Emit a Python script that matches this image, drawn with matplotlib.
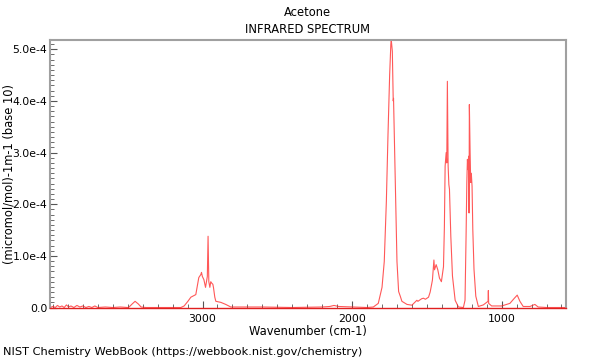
import matplotlib
matplotlib.use('Agg')
import matplotlib.pyplot as plt
from matplotlib.ticker import MultipleLocator, FixedLocator, FuncFormatter

# spectrum points (wavenumber cm-1, absorbance in 1e-4)
wavenumber = [4020, 4000, 3985, 3970, 3955, 3940, 3925, 3910, 3895, 3880, 3860, 3840,
              3820, 3800, 3780, 3760, 3740, 3720, 3700, 3650, 3600, 3550, 3500,
              3491, 3470, 3451, 3430, 3411, 3380, 3300, 3200, 3145, 3123, 3098, 3078,
              3045, 3025, 3011, 3007, 3001, 2991, 2980, 2968, 2963, 2958, 2951, 2945,
              2938, 2931, 2927, 2918, 2911, 2878, 2845, 2811, 2750, 2600, 2400, 2200,
              2150, 2121, 2090, 2000, 1900, 1858, 1825, 1800, 1785, 1771, 1760, 1749,
              1741, 1738, 1731, 1727, 1725, 1723, 1718, 1709, 1700, 1689, 1678, 1667,
              1633, 1600, 1567, 1560, 1545, 1535, 1523, 1510, 1489, 1478, 1463, 1453,
              1449, 1438, 1427, 1416, 1403, 1389, 1383, 1378, 1371, 1367, 1363, 1358,
              1353, 1349, 1340, 1329, 1311, 1289, 1256, 1245, 1238, 1233, 1229, 1225,
              1220, 1218, 1216, 1211, 1207, 1203, 1198, 1193, 1185, 1173, 1156, 1123,
              1100, 1091, 1089, 1087, 1067, 1000, 945, 918, 896, 878, 856, 811, 778,
              756, 700, 600, 570]
absorbance = [0.0, 0.02, 0.0, 0.04, 0.01, 0.03, 0.0, 0.05, 0.01, 0.03, 0.0, 0.04,
              0.01, 0.03, 0.0, 0.02, 0.0, 0.03, 0.0, 0.01, 0.0, 0.01, 0.0,
              0.01, 0.07, 0.12, 0.07, 0.01, 0.0, 0.0, 0.0, 0.0, 0.03, 0.12, 0.2,
              0.25, 0.58, 0.64, 0.68, 0.6, 0.54, 0.39, 0.6, 1.38, 0.5, 0.39, 0.5,
              0.47, 0.45, 0.39, 0.2, 0.12, 0.1, 0.06, 0.01, 0.01, 0.01, 0.0, 0.01,
              0.02, 0.04, 0.02, 0.01, 0.0, 0.01, 0.08, 0.39, 0.89, 2.05, 3.35, 4.5,
              5.1, 5.18, 4.96, 4.3, 4.0, 4.05, 3.35, 2.05, 0.89, 0.31, 0.22, 0.12,
              0.06, 0.045, 0.14, 0.12, 0.15, 0.17, 0.18, 0.16, 0.2, 0.3, 0.53, 0.92,
              0.73, 0.83, 0.73, 0.57, 0.5, 0.79, 1.56, 2.74, 3.0, 2.8, 4.38, 2.74,
              2.38, 2.29, 1.38, 0.61, 0.14, 0.01, 0.0, 0.14, 1.38, 2.42, 2.87, 2.67,
              2.93, 1.83, 3.93, 3.0, 2.42, 2.6, 2.35, 1.51, 0.74, 0.22, 0.02, 0.05,
              0.1, 0.12, 0.33, 0.08, 0.03, 0.03, 0.08, 0.17, 0.24, 0.12, 0.02, 0.02, 0.06,
              0.01, 0.0, 0.0, 0.0]

xticks = [3000, 2000, 1000]
title = 'Acetone'
subtitle = 'INFRARED SPECTRUM'
xlabel = 'Wavenumber (cm-1)'
ylabel = '(micromol/mol)-1m-1 (base 10)'
footer = 'NIST Chemistry WebBook (https://webbook.nist.gov/chemistry)'

fig = plt.figure(figsize=(6, 3.6), dpi=100)
ax = fig.add_axes([0.0833, 0.1458, 0.8600, 0.7431])

y = [v * 1e-4 for v in absorbance]
ax.plot(wavenumber, y, color='#ff2020', lw=0.8, alpha=0.75)

ax.set_xlim(4020, 570)
ax.set_ylim(0, 5.18e-4)

ax.xaxis.set_major_locator(FixedLocator(xticks))
ax.xaxis.set_minor_locator(MultipleLocator(100))
ax.yaxis.set_major_locator(MultipleLocator(1e-4))
ax.yaxis.set_minor_locator(MultipleLocator(0.1e-4))


def yfmt(v, pos):
    if abs(v) < 1e-12:
        return '0.0'
    return '%.1fe-4' % (v * 1e4)


ax.yaxis.set_major_formatter(FuncFormatter(yfmt))
ax.tick_params(which='both', direction='in', color='#555555', labelsize=7.8)
ax.tick_params(which='major', length=5)
ax.tick_params(which='minor', length=3)
ax.tick_params(axis='x', pad=5)
ax.tick_params(axis='y', pad=2)

for s in ax.spines.values():
    s.set_color('#a0a0a0')
    s.set_linewidth(1.5)
ax.spines['bottom'].set_color('#e02020')
ax.spines['bottom'].set_linewidth(1.0)

ax.set_xlabel(xlabel, fontsize=8.3)
ax.xaxis.set_label_coords(0.5, -0.066)
ax.set_ylabel(ylabel, fontsize=8.3)
ax.yaxis.set_label_coords(-0.066, 0.5)

fig.text(0.513, 0.965, title, ha='center', va='center', fontsize=8.3)
fig.text(0.513, 0.918, subtitle, ha='center', va='center', fontsize=8.3)
fig.text(0.005, 0.022, footer, ha='left', va='center', fontsize=8.2)

fig.savefig('out.png', dpi=100)
